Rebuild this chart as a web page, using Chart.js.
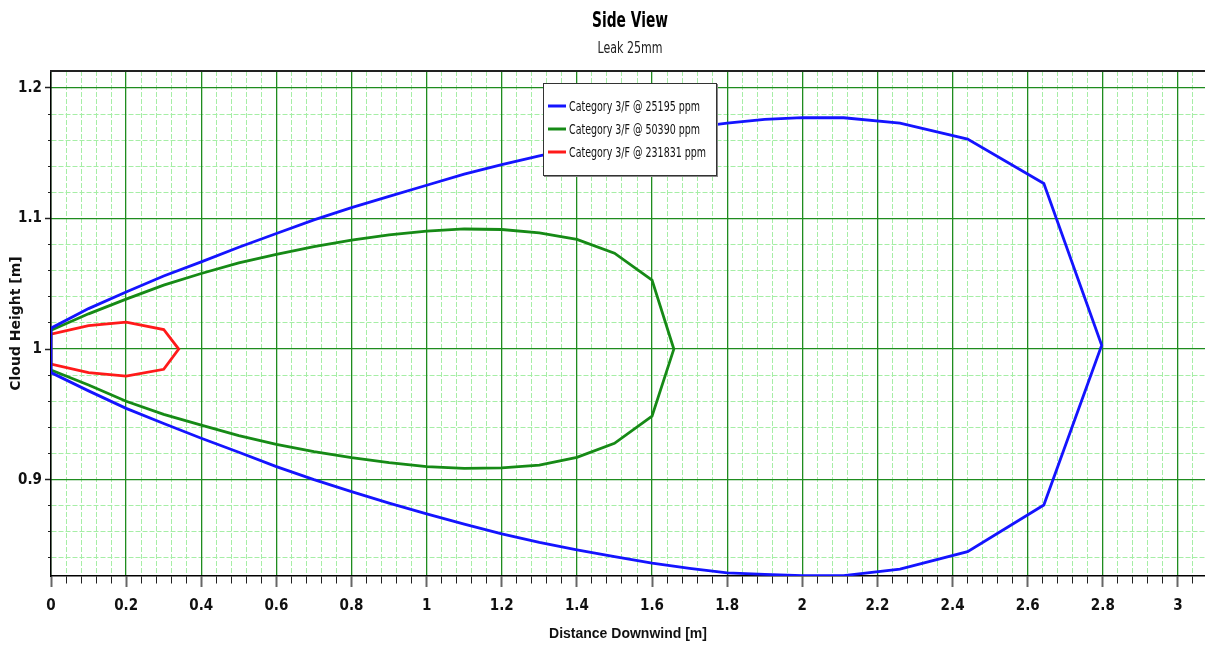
<!DOCTYPE html>
<html>
<head>
<meta charset="utf-8">
<title>Side View</title>
<script src="https://cdn.jsdelivr.net/npm/chart.js@4.4.1/dist/chart.umd.min.js"></script>
<style>
  html, body { margin: 0; padding: 0; background: #fff; }
  #wrap { width: 1205px; height: 646px; }
</style>
</head>
<body>
<div id="wrap"><canvas id="sideView" width="1205" height="646"></canvas></div>
<script>
const NARROW = "'Liberation Sans Narrow', 'DejaVu Sans Condensed', 'Arial Narrow', sans-serif";

// Each cloud outline: along the top edge out to the tip, back along the bottom edge, then closed at x = 0
const dist25195 = [0, 0.1, 0.2, 0.3, 0.4, 0.5, 0.6, 0.7, 0.8, 0.9, 1.0, 1.1, 1.2, 1.3, 1.4, 1.5, 1.6, 1.7, 1.8, 1.9,
  2.0, 2.11, 2.26, 2.44, 2.643, 2.797,
  2.643, 2.44, 2.26, 2.11, 2.0, 1.9, 1.8, 1.7, 1.6, 1.5, 1.4, 1.3, 1.2, 1.1, 1.0, 0.9, 0.8, 0.7, 0.6, 0.5, 0.4, 0.3, 0.2, 0.1, 0, 0];
const height25195 = [1.016, 1.031, 1.0438, 1.056, 1.0668, 1.078, 1.0885, 1.099, 1.1084, 1.117, 1.1255, 1.134, 1.1413, 1.148, 1.154, 1.16, 1.1645, 1.1695, 1.173, 1.176,
  1.1773, 1.1772, 1.1731, 1.1609, 1.1268, 1.003,
  0.8806, 0.8449, 0.8314, 0.8265, 0.8265, 0.8275, 0.8286, 0.832, 0.836, 0.841, 0.8462, 0.852, 0.8585, 0.866, 0.8738, 0.882, 0.8908, 0.900, 0.910, 0.921, 0.9317, 0.943, 0.9546, 0.968, 0.982, 1.016];

const dist50390 = [0, 0.1, 0.2, 0.3, 0.4, 0.5, 0.6, 0.7, 0.8, 0.9, 1.0, 1.1, 1.2, 1.3, 1.4, 1.5, 1.6, 1.658,
  1.6, 1.5, 1.4, 1.3, 1.2, 1.1, 1.0, 0.9, 0.8, 0.7, 0.6, 0.5, 0.4, 0.3, 0.2, 0.1, 0, 0];
const height50390 = [1.0145, 1.027, 1.0383, 1.049, 1.0579, 1.066, 1.0725, 1.0785, 1.0834, 1.0875, 1.0903, 1.092, 1.0916, 1.089, 1.084, 1.0735, 1.0528, 1.0,
  0.9487, 0.9278, 0.9171, 0.9112, 0.909, 0.9087, 0.910, 0.913, 0.9168, 0.9214, 0.9271, 0.9337, 0.9418, 0.950, 0.960, 0.9725, 0.984, 1.0145];

const dist231831 = [0, 0.1, 0.2, 0.3, 0.34, 0.3, 0.2, 0.1, 0, 0];
const height231831 = [1.0115, 1.018, 1.0207, 1.015, 1.0, 0.9845, 0.9793, 0.982, 0.9885, 1.0115];

const seriesLabels = ['Category 3/F @ 25195 ppm', 'Category 3/F @ 50390 ppm', 'Category 3/F @ 231831 ppm'];
const seriesColors = ['#1414ff', '#168a16', '#ff1a1a'];

const X_MIN = 0, X_MAX = 3.072, X_MINOR = 0.04, X_MAJOR = 0.2;
const Y_MIN = 0.8262, Y_MAX = 1.213, Y_MINOR = 0.02, Y_MAJOR = 0.1;

const toPoints = (xs, ys) => xs.map((x, i) => ({ x: x, y: ys[i] }));
const isMajor = (v, step) => Math.abs(v / step - Math.round(v / step)) < 1e-6;
const fmt = v => String(Math.round(v * 10) / 10);

const MINOR_GRID = '#a6eea6';
const MAJOR_GRID = '#1f8c1f';

// draws text squeezed horizontally so it spans `width` pixels
function narrowText(ctx, text, x, y, width) {
  const k = Math.min(1, width / ctx.measureText(text).width);
  ctx.save();
  ctx.translate(x, y);
  ctx.scale(k, 1);
  ctx.fillText(text, 0, 0);
  ctx.restore();
}

// title + subtitle, centred over the plot
const headerPlugin = {
  id: 'header',
  afterDraw(chart) {
    const { ctx, chartArea } = chart;
    const cx = (chartArea.left + chartArea.right) / 2 + 2;
    ctx.save();
    ctx.textAlign = 'center';
    ctx.textBaseline = 'middle';
    ctx.fillStyle = '#000';
    ctx.font = 'bold 22px ' + NARROW;
    narrowText(ctx, 'Side View', cx, 21, 76);
    ctx.fillStyle = '#222';
    ctx.font = '15px ' + NARROW;
    narrowText(ctx, 'Leak 25mm', cx, 49, 65);
    ctx.restore();
  }
};

// boxed legend sitting inside the plot
const boxLegend = {
  id: 'boxLegend',
  afterDatasetsDraw(chart) {
    const { ctx, chartArea } = chart;
    const left = chartArea.left + 492, top = chartArea.top + 12, w = 173, h = 92;
    ctx.save();
    ctx.fillStyle = '#888';
    ctx.fillRect(left + 1, top + 1, w + 1, h + 1);
    ctx.fillStyle = '#fff';
    ctx.fillRect(left, top, w, h);
    ctx.strokeStyle = '#333';
    ctx.lineWidth = 1;
    ctx.strokeRect(left + 0.5, top + 0.5, w, h);
    ctx.font = '14px ' + NARROW;
    ctx.textBaseline = 'middle';
    const k = 131 / ctx.measureText(chart.data.datasets[0].label).width;
    chart.data.datasets.forEach((ds, i) => {
      const y = top + 23 + i * 23;
      ctx.strokeStyle = ds.borderColor;
      ctx.lineWidth = 3;
      ctx.beginPath();
      ctx.moveTo(left + 5, y);
      ctx.lineTo(left + 23, y);
      ctx.stroke();
      ctx.fillStyle = '#111';
      narrowText(ctx, ds.label, left + 26, y + 1, ctx.measureText(ds.label).width * k);
    });
    ctx.restore();
  }
};

const tickFont = { family: NARROW, size: 15, weight: 'bold' };

new Chart(document.getElementById('sideView'), {
  type: 'scatter',
  data: {
    datasets: [
      { label: seriesLabels[0], data: toPoints(dist25195, height25195), borderColor: seriesColors[0] },
      { label: seriesLabels[1], data: toPoints(dist50390, height50390), borderColor: seriesColors[1] },
      { label: seriesLabels[2], data: toPoints(dist231831, height231831), borderColor: seriesColors[2] }
    ].map(ds => Object.assign(ds, {
      showLine: true, fill: false, tension: 0, borderWidth: 2.8,
      pointRadius: 0, pointHoverRadius: 0, backgroundColor: ds.borderColor
    }))
  },
  options: {
    responsive: false,
    animation: false,
    devicePixelRatio: 1,
    layout: { padding: { top: 71, right: 0, bottom: 0, left: 0 } },
    plugins: {
      legend: { display: false },
      tooltip: { enabled: false },
      title: { display: false }
    },
    scales: {
      // minor grid + labelled ticks
      x: {
        type: 'linear', position: 'bottom', min: X_MIN, max: X_MAX,
        afterFit: s => { s.height = 70; },
        border: { display: true, color: '#000', width: 1.5, dash: [5, 2] },
        grid: {
          color: c => isMajor(c.tick.value, X_MAJOR) ? 'rgba(0,0,0,0)' : MINOR_GRID,
          lineWidth: 1,
          drawTicks: true,
          tickLength: 11,
          tickColor: c => isMajor(c.tick.value, X_MAJOR) ? '#666' : '#222',
          tickWidth: c => isMajor(c.tick.value, X_MAJOR) ? 2 : 1,
          tickBorderDash: c => isMajor(c.tick.value, X_MAJOR) ? [] : [7, 20]
        },
        ticks: {
          stepSize: X_MINOR, autoSkip: false, maxRotation: 0, includeBounds: false,
          padding: 10, color: '#111', font: tickFont,
          callback: v => isMajor(v, X_MAJOR) ? fmt(v) : ''
        },
        title: {
          display: true, text: 'Distance Downwind [m]', color: '#111',
          font: { family: "'Liberation Sans', Arial, sans-serif", size: 14, weight: 'bold' },
          padding: { top: 4, bottom: 3 }
        }
      },
      y: {
        type: 'linear', position: 'left', min: Y_MIN, max: Y_MAX,
        afterFit: s => { s.width = 51; },
        border: { display: true, color: '#000', width: 1.5, dash: [5, 2] },
        grid: {
          color: c => isMajor(c.tick.value, Y_MAJOR) ? 'rgba(0,0,0,0)' : MINOR_GRID,
          lineWidth: 1,
          drawTicks: true,
          tickLength: 6,
          tickColor: '#222',
          tickWidth: c => isMajor(c.tick.value, Y_MAJOR) ? 1.5 : 1,
          tickBorderDash: c => isMajor(c.tick.value, Y_MAJOR) ? [] : [0, 3, 3, 0]
        },
        ticks: {
          stepSize: Y_MINOR, autoSkip: false, includeBounds: false,
          padding: 3, color: '#111', font: tickFont,
          callback: v => isMajor(v, Y_MAJOR) ? fmt(v) : ''
        },
        title: {
          display: true, text: 'Cloud Height [m]', color: '#111',
          font: { family: "'DejaVu Sans', Verdana, sans-serif", size: 14, weight: 'bold' },
          padding: { top: 8, bottom: 0 }
        }
      },
      // major grid, solid, drawn over the minor one
      x2: {
        type: 'linear', position: 'top', min: X_MIN, max: X_MAX,
        afterFit: s => { s.height = 0; },
        border: { display: true, color: '#222', width: 2 },
        grid: { color: MAJOR_GRID, lineWidth: 1.3, drawTicks: false },
        ticks: { display: false, stepSize: X_MAJOR, includeBounds: false }
      },
      y2: {
        type: 'linear', position: 'right', min: Y_MIN, max: Y_MAX,
        afterFit: s => { s.width = 0; },
        border: { display: false },
        grid: { color: MAJOR_GRID, lineWidth: 1.3, drawTicks: false },
        ticks: { display: false, stepSize: Y_MAJOR, includeBounds: false }
      }
    }
  },
  plugins: [headerPlugin, boxLegend]
});
</script>
</body>
</html>
